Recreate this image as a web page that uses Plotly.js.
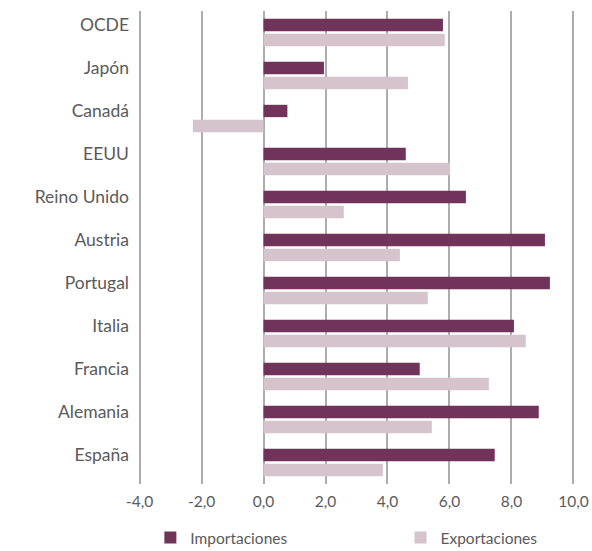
<!DOCTYPE html>
<html>
<head>
<meta charset="utf-8">
<script src="https://cdn.plot.ly/plotly-3.0.1.min.js"></script>
<style>html,body{margin:0;padding:0;background:#fff;}#chart{width:592px;height:551px;}</style>
</head>
<body>
<div id="chart"></div>
<script>
const categories = ["OCDE","Japón","Canadá","EEUU","Reino Unido","Austria","Portugal","Italia","Francia","Alemania","España"];
const importaciones = [5.79, 1.95, 0.77, 4.59, 6.53, 9.08, 9.24, 8.08, 5.04, 8.88, 7.46];
const exportaciones = [5.85, 4.66, -2.28, 6.02, 2.59, 4.40, 5.30, 8.46, 7.27, 5.43, 3.85];
const xTicks = [-4, -2, 0, 2, 4, 6, 8, 10];
const xTickLabels = ["-4,0","-2,0","0,0","2,0","4,0","6,0","8,0","10,0"];

const font = "Lato, 'Open Sans', sans-serif";
const traces = [
  {type:'bar', orientation:'h', name:'Importaciones', y:categories, x:importaciones,
   marker:{color:'#70345a'}, hoverinfo:'x', legend:'legend'},
  {type:'bar', orientation:'h', name:'Exportaciones', y:categories, x:exportaciones,
   marker:{color:'#d5c4cb'}, hoverinfo:'x', legend:'legend2'}
];
const legendBase = {orientation:'h', xref:'container', yref:'container', y:0.0236,
  xanchor:'left', yanchor:'middle', font:{size:15.5, color:'#5a5a5a', family:font},
  bgcolor:'rgba(0,0,0,0)'};
const layout = {
  width:592, height:551,
  margin:{l:138, r:17, t:11, b:66.5},
  paper_bgcolor:'#fff', plot_bgcolor:'#fff',
  barmode:'group', bargap:0.3, bargroupgap:0.18,
  font:{family:font, color:'#5a5a5a', size:15},
  xaxis:{range:[-4.05,10.05], tickvals:xTicks, ticktext:xTickLabels,
    showgrid:true, gridcolor:'#adadad', gridwidth:2,
    zeroline:true, zerolinecolor:'#adadad', zerolinewidth:2,
    showline:false, ticks:'', ticklabelstandoff:6,
    tickfont:{size:15.5, color:'#5a5a5a', family:font}},
  yaxis:{type:'category', range:[10.5,-0.5], showgrid:false, zeroline:false, showline:false,
    ticks:'', ticklabelstandoff:8, ticklabelshift:8,
    tickfont:{size:17.5, color:'#5a5a5a', family:font}},
  showlegend:true,
  legend:Object.assign({}, legendBase, {x:0.254}),
  legend2:Object.assign({}, legendBase, {x:0.6765})
};
Plotly.newPlot('chart', traces, layout, {displayModeBar:false, staticPlot:true});
</script>
</body>
</html>
